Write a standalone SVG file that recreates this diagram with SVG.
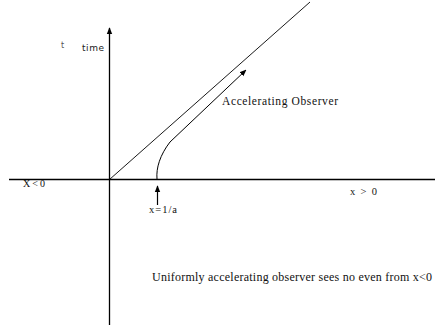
<svg xmlns="http://www.w3.org/2000/svg" width="435" height="329" viewBox="0 0 435 329">
<defs>
<marker id="ah" viewBox="0 0 10 10" refX="9" refY="5" markerWidth="7" markerHeight="7" markerUnits="userSpaceOnUse" orient="auto"><path d="M0,1 L10,5 L0,9 Z" fill="#000"/></marker>
</defs>
<style>
.ser{font-family:"Liberation Serif","Times New Roman",serif;fill:#111}
.san{font-family:"DejaVu Sans","Liberation Sans",sans-serif;fill:#222}
.ln{fill:none;stroke:#000}
</style>
<rect width="435" height="329" fill="#fff"/>
<g id="connectors">
<line class="ln" x1="109.5" y1="325" x2="109.5" y2="28" stroke-width="1.3" marker-end="url(#ah)"/>
<line class="ln" x1="9" y1="179.5" x2="435" y2="179.5" stroke="#666" stroke-width="1.3"/>
<line class="ln" x1="109.5" y1="179.5" x2="310" y2="2" stroke="#333" stroke-width="0.9"/>
<path class="ln" d="M157,179 C156,168 160,155 170,142 L246,70" stroke-width="1" marker-end="url(#ah)"/>
<line class="ln" x1="157.5" y1="205" x2="157.5" y2="186" stroke-width="1.2" marker-end="url(#ah)"/>
</g>
<g id="labels">
<text class="san" x="61" y="48" font-size="8" style="fill:#555">t</text>
<text class="san" x="82" y="51" font-size="9" textLength="22">time</text>
<text class="ser" x="222" y="105" font-size="11.5" textLength="116">Accelerating Observer</text>
<text class="ser" x="23" y="187" font-size="10" textLength="22">X&lt;0</text>
<text class="ser" x="350" y="195" font-size="10.5" textLength="27">x &gt; 0</text>
<text class="ser" x="149" y="213" font-size="10.5" textLength="28">x=1/a</text>
<text class="ser" x="152" y="281" font-size="12" textLength="280">Uniformly accelerating observer sees no even from x&lt;0</text>
</g>
</svg>
